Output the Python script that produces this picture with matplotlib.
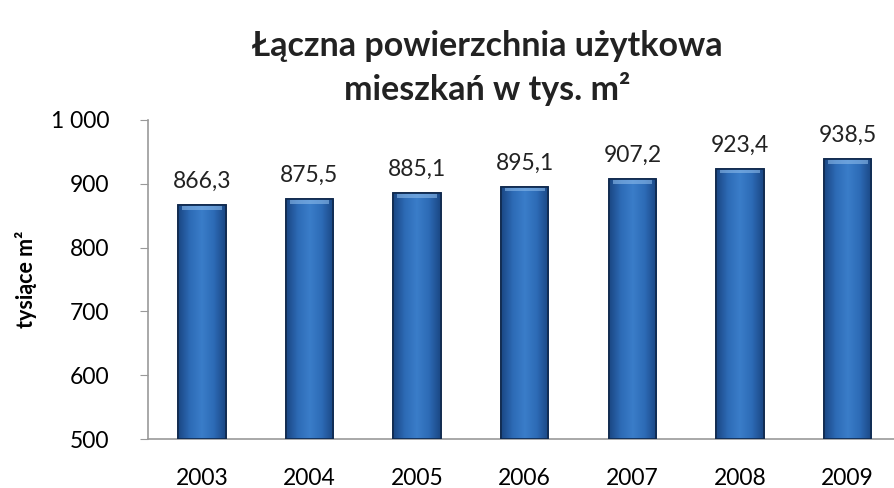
import numpy as np
import matplotlib.pyplot as plt
from matplotlib.colors import LinearSegmentedColormap

plt.rcParams['font.family'] = ['Lato', 'DejaVu Sans']

# dane
years = ['2003', '2004', '2005', '2006', '2007', '2008', '2009']
values = [866.3, 875.5, 885.1, 895.1, 907.2, 923.4, 938.5]
labels = ['866,3', '875,5', '885,1', '895,1', '907,2', '923,4', '938,5']
yticks = [500, 600, 700, 800, 900, 1000]
ytick_labels = ['500', '600', '700', '800', '900', '1 000']

fig = plt.figure(figsize=(8.94, 4.88), dpi=100)
ax = fig.add_axes([148 / 894, 49 / 488, 746 / 894, 319 / 488])

x = np.arange(len(years))
bars = ax.bar(x, [v - 500 for v in values], bottom=500, width=0.44,
              color='#2f6db6', edgecolor='#10294d', linewidth=1.2, zorder=3)

# gradient na słupkach (ciemne brzegi, jaśniejszy środek)
cmap = LinearSegmentedColormap.from_list(
    'bar', ['#1a4683', '#2d6bb6', '#3a7dc9', '#2d6bb6', '#1a4683'])
grad = np.linspace(0, 1, 200).reshape(1, -1)
for b in bars:
    x0, w = b.get_x(), b.get_width()
    y0, h = b.get_y(), b.get_height()
    im = ax.imshow(grad, cmap=cmap, aspect='auto', extent=[x0, x0 + w, y0, y0 + h],
                   zorder=3.5, interpolation='bicubic')
    im.set_clip_path(b)
    # jasny pasek u góry
    ax.fill_between([x0 + w * 0.08, x0 + w * 0.92], y0 + h - 7, y0 + h - 1.5,
                    color='#8bbaea', alpha=0.6, zorder=4, linewidth=0)
    ax.bar(x0 + w / 2, h, bottom=y0, width=w, facecolor='none',
           edgecolor='#10294d', linewidth=1.2, zorder=5)

for xi, v, lab in zip(x, values, labels):
    ax.text(xi, v + 37, lab, ha='center', va='center', fontsize=16.5, color='#222222')

ax.set_xlim(-0.5, 6.43)
ax.set_ylim(500, 1000)
ax.set_xticks(x)
ax.set_xticklabels(years, fontsize=16.5)
ax.set_yticks(yticks)
ax.set_yticklabels(ytick_labels, fontsize=16.5)
ax.tick_params(axis='x', length=0, pad=21)
ax.tick_params(axis='y', length=6, color='#999999', pad=22)
for s in ['top', 'right']:
    ax.spines[s].set_visible(False)
ax.spines['left'].set_color('#999999')
ax.spines['bottom'].set_color('#999999')
ax.spines['left'].set_linewidth(1.2)
ax.spines['bottom'].set_linewidth(1.2)

ax.set_ylabel('tysiące m²', fontsize=15.5, fontweight='bold', labelpad=10)
fig.text(0.545, 0.86, 'Łączna powierzchnia użytkowa\nmieszkań w tys. m²',
         ha='center', va='center', fontsize=24.5, fontweight='bold',
         color='#222222', linespacing=1.35)

fig.savefig('out.png', dpi=100)
